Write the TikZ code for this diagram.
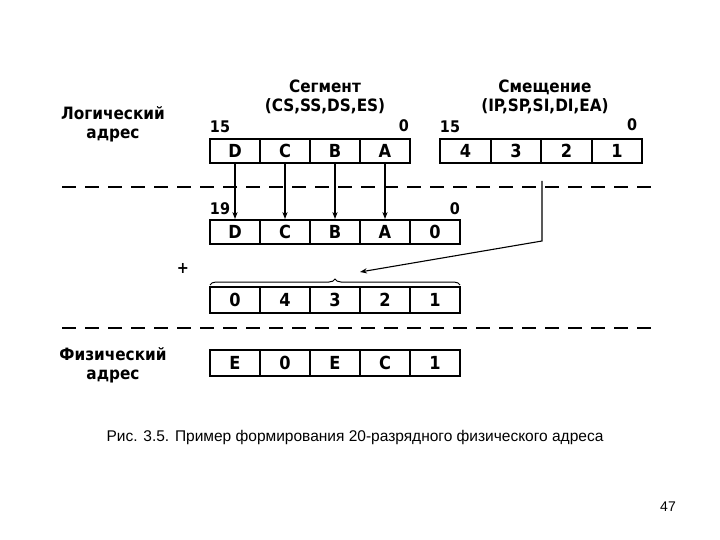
\documentclass[tikz,border=0pt]{standalone}
\usepackage{fontspec}
\setmainfont{Liberation Sans}
\newfontfamily\dfont{DejaVu Sans Condensed}
\usetikzlibrary{decorations.pathreplacing,arrows.meta}
\begin{document}
\begin{tikzpicture}[x=1pt,y=-1pt,
  cell/.style={draw,line width=2pt,minimum width=50pt,minimum height=24pt,inner sep=0pt,font=\dfont\bfseries\fontsize{18}{18}\selectfont},
  lbl/.style={font=\dfont\bfseries\fontsize{17}{19}\selectfont,align=center},
  bit/.style={font=\dfont\bfseries\fontsize{16}{16}\selectfont},
  sepline/.style={line width=2pt,dash pattern=on 14pt off 9pt},
  arr/.style={-{Stealth[length=7pt]},line width=1.1pt}]
\useasboundingbox (0,0) rectangle (720,540);
% registers
\foreach \t [count=\i] in {D,C,B,A}
  \node[cell] (s\i) at (185+50*\i,151) {\t};
\foreach \t [count=\i] in {4,3,2,1}
  \node[cell,minimum width=50.5pt] (o\i) at (415+50.5*\i,151) {\t};
\foreach \t [count=\i] in {D,C,B,A,0}
  \node[cell] (m\i) at (185+50*\i,232) {\t};
\foreach \t [count=\i] in {0,4,3,2,1}
  \node[cell,minimum height=26pt] (p\i) at (185+50*\i,300) {\t};
\foreach \t [count=\i] in {E,0,E,C,1}
  \node[cell,minimum height=26pt] (f\i) at (185+50*\i,363) {\t};
% labels
\node[lbl] (ll) at (113,124) {Логический\\адрес};
\node[lbl] (fl) at (113,365) {Физический\\адрес};
\node[lbl] (sl) at (325,97) {Сегмент\\(CS,SS,DS,ES)};
\node[lbl] (ol) at (545,97) {Смещение\\(IP,SP,SI,DI,EA)};
\node[bit] (b1) at (220,127) {15};
\node[bit] (b2) at (404,126) {0};
\node[bit] (b3) at (450,127) {15};
\node[bit] (b4) at (632,125) {0};
\node[bit] (b5) at (220,209) {19};
\node[bit] (b6) at (455,209) {0};
\node[bit] (pl) at (183,268) {+};
% dashed lines
\coordinate (d1a) at (62,187); \coordinate (d1b) at (652,187);
\coordinate (d2a) at (62,328); \coordinate (d2b) at (652,328);
\draw[sepline] (d1a) -- (d1b);
\draw[sepline] (d2a) -- (d2b);
% arrows
\foreach \i in {1,...,4} \draw[arr] (s\i.south) -- (m\i.north);
\coordinate (ot) at (542,181);
\coordinate (ob) at (542,241);
\coordinate (bt) at (360,272);
\draw[arr] (ot) -- (ob) -- (bt);
% brace
\coordinate (ba) at (210,285); \coordinate (bb) at (460,285);
\draw[decorate,decoration={brace,amplitude=6pt},line width=1pt] (ba) -- (bb);
% caption
\node[font=\fontsize{15.5}{17}\selectfont] (cap) at (355,437) {Рис. 3.5. Пример формирования 20-разрядного физического адреса};
\node[font=\fontsize{14}{16}\selectfont] (pg) at (668,507) {47};
\end{tikzpicture}
\end{document}
